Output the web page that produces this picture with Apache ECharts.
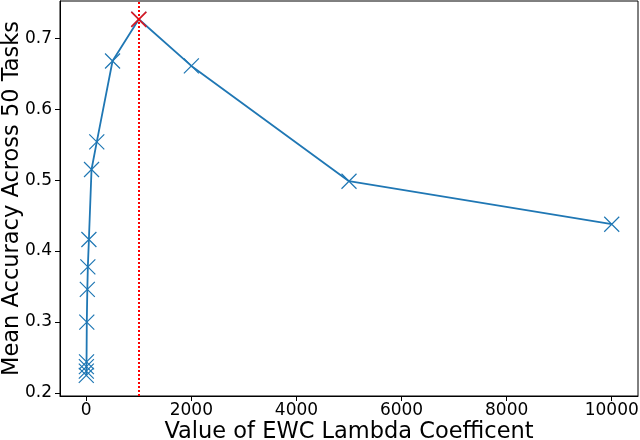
<!DOCTYPE html>
<html><head><meta charset="utf-8">
<script src="https://cdn.jsdelivr.net/npm/echarts@6/dist/echarts.min.js"></script>
<style>html,body{margin:0;padding:0;background:#fff}#c{width:640px;height:440px}</style>
</head><body><div id="c"></div>
<script>
const lambdas = [0, 1, 2, 5, 10, 20, 30, 50, 100, 200, 500, 1000, 2000, 5000, 10000];
const accuracy = [0.2245, 0.2306, 0.2369, 0.2437, 0.2997, 0.3458, 0.3776, 0.4162, 0.515, 0.554, 0.668, 0.7268, 0.661, 0.4984, 0.4378];
const bestLambda = 1000;
const bestAcc = 0.7268;
const xTicks = [0, 2000, 4000, 6000, 8000, 10000];
const yTicks = [0.2, 0.3, 0.4, 0.5, 0.6, 0.7];

const FONT = 'DejaVu Sans';
const BLUE = '#1f77b4';
const X_SYMBOL = 'path://M0,0L10,10M10,0L0,10';

const chart = echarts.init(document.getElementById('c'), null, {renderer: 'canvas'});
chart.setOption({
  animation: false,
  backgroundColor: '#fff',
  grid: {left: 60, right: 2, top: 1, bottom: 44, containLabel: false, outerBoundsMode: 'none',
         show: true, borderColor: '#000', borderWidth: 1},
  xAxis: {
    type: 'value', min: -500, max: 10500,
    name: 'Value of EWC Lambda Coefficent', nameLocation: 'middle', nameGap: 25,
    nameMoveOverlap: false,
    nameTextStyle: {fontFamily: FONT, fontSize: 22.5, color: '#000'},
    axisLine: {show: true, onZero: false, lineStyle: {color: '#000', width: 1}},
    axisTick: {show: true, length: 5, inside: false, customValues: xTicks, lineStyle: {color: '#000'}},
    axisLabel: {customValues: xTicks, margin: 6, fontFamily: FONT, fontSize: 17, color: '#000',
                formatter: v => String(v)},
    splitLine: {show: false}
  },
  yAxis: {
    type: 'value', min: 0.1955, max: 0.7526,
    name: 'Mean Accuracy Across 50 Tasks', nameLocation: 'middle', nameGap: 36,
    nameMoveOverlap: false,
    nameTextStyle: {fontFamily: FONT, fontSize: 22.5, color: '#000'},
    axisLine: {show: true, onZero: false, lineStyle: {color: '#000', width: 1}},
    axisTick: {show: true, length: 5, customValues: yTicks, lineStyle: {color: '#000'}},
    axisLabel: {customValues: yTicks, margin: 8, fontFamily: FONT, fontSize: 17, color: '#000',
                formatter: v => v.toFixed(1)},
    splitLine: {show: false}
  },
  series: [
    {
      type: 'line',
      data: lambdas.map((l, i) => [l, accuracy[i]]),
      symbol: X_SYMBOL, symbolSize: 15, showAllSymbol: true,
      lineStyle: {color: BLUE, width: 1.8},
      itemStyle: {color: BLUE, borderColor: BLUE, borderWidth: 1.2},
      z: 2
    },
    {
      type: 'scatter',
      data: [[bestLambda, bestAcc]],
      symbol: X_SYMBOL, symbolSize: 15,
      itemStyle: {color: 'red', borderColor: 'red', borderWidth: 1.7},
      z: 4,
      markLine: {
        silent: true, symbol: ['none', 'none'], label: {show: false},
        lineStyle: {color: 'red', type: [2, 2], width: 2},
        data: [{xAxis: bestLambda}]
      }
    }
  ]
});
</script></body></html>
